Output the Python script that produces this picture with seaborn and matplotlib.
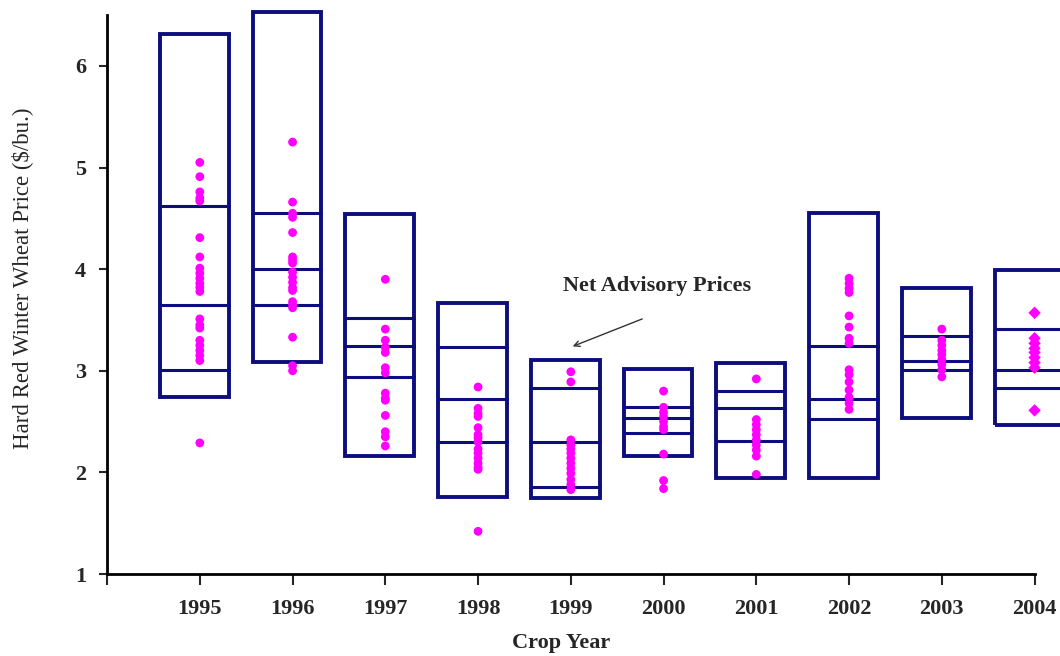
import matplotlib
matplotlib.use("Agg")
import matplotlib.pyplot as plt
from matplotlib.patches import Rectangle
import pandas as pd
import seaborn as sns

# crop years and the price ranges drawn as boxes ($/bu.)
years = [1995, 1996, 1997, 1998, 1999, 2000, 2001, 2002, 2003, 2004]
box_low = [2.74, 3.09, 2.16, 1.76, 1.75, 2.16, 1.94, 1.94, 2.54, 2.47]
box_high = [6.31, 6.53, 4.54, 3.67, 3.11, 3.02, 3.08, 4.55, 3.81, 3.99]
upper_line = [4.62, 4.55, 3.52, 3.23, 2.83, 2.64, 2.80, 3.24, 3.34, 3.41]
middle_line = [3.65, 4.00, 3.24, 2.72, 2.30, 2.54, 2.63, 2.72, 3.10, 3.01]
lower_line = [3.01, 3.65, 2.94, 2.30, 1.86, 2.39, 2.31, 2.53, 3.01, 2.83]

# net advisory prices, one list per crop year
net_prices = [
    [5.05, 4.91, 4.76, 4.70, 4.67, 4.31, 4.12, 4.01, 3.96, 3.91, 3.86, 3.82,
     3.78, 3.51, 3.45, 3.42, 3.30, 3.25, 3.20, 3.15, 3.10, 2.29],
    [5.25, 4.66, 4.55, 4.51, 4.36, 4.12, 4.09, 4.06, 3.97, 3.92, 3.87, 3.82,
     3.79, 3.68, 3.65, 3.62, 3.33, 3.05, 3.00],
    [3.90, 3.41, 3.30, 3.23, 3.18, 3.03, 2.98, 2.78, 2.73, 2.71, 2.56, 2.40,
     2.35, 2.26],
    [2.84, 2.63, 2.58, 2.55, 2.44, 2.37, 2.34, 2.30, 2.23, 2.19, 2.14, 2.09,
     2.05, 2.03, 1.42],
    [2.99, 2.89, 2.32, 2.27, 2.23, 2.19, 2.14, 2.09, 2.04, 1.99, 1.93, 1.88, 1.83],
    [2.80, 2.64, 2.59, 2.55, 2.50, 2.45, 2.42, 2.18, 1.92, 1.84],
    [2.92, 2.52, 2.47, 2.42, 2.37, 2.32, 2.27, 2.22, 2.16, 1.98],
    [3.91, 3.86, 3.81, 3.77, 3.54, 3.43, 3.32, 3.27, 3.01, 2.96, 2.89, 2.81,
     2.74, 2.68, 2.62],
    [3.41, 3.30, 3.25, 3.20, 3.16, 3.11, 3.06, 3.01, 2.94],
    [3.57, 3.32, 3.27, 3.22, 3.18, 3.13, 3.08, 3.03, 2.61],
]

rows = []
for yr, prices in zip(years, net_prices):
    for p in prices:
        rows.append({"year": yr, "price": p, "shape": "diamond" if yr == 2004 else "circle"})
df = pd.DataFrame(rows)

sns.set_style("white")
plt.rcParams["font.family"] = ["Liberation Serif", "DejaVu Serif"]

navy = "#0d0d7d"
fig, ax = plt.subplots(figsize=(10.6, 6.56), dpi=100)
fig.subplots_adjust(left=0.101, right=0.976, bottom=0.125, top=0.977)

box_w = 0.74
shift = -0.06
for i, yr in enumerate(years):
    x0 = yr + shift - box_w / 2
    ax.add_patch(Rectangle((x0, box_low[i]), box_w, box_high[i] - box_low[i],
                           fill=False, edgecolor=navy, linewidth=2.8,
                           clip_on=False, zorder=2))
    for lv in (upper_line[i], middle_line[i], lower_line[i]):
        ax.plot([x0, x0 + box_w], [lv, lv], color=navy, linewidth=2.2,
                clip_on=False, zorder=2)

sns.scatterplot(data=df, x="year", y="price", style="shape",
                markers={"circle": "o", "diamond": "D"}, color="#ff00ff",
                s=40, edgecolor="none", legend=False, ax=ax, zorder=3,
                clip_on=False)

ax.set_xlim(1994, 2004)
ax.set_ylim(1, 6.5)
ax.set_xticks(range(1994, 2005))
ax.set_xticklabels([""] + [str(y) for y in years], fontsize=16, fontweight="bold")
ax.set_yticks([1, 2, 3, 4, 5, 6])
ax.set_yticklabels(["1", "2", "3", "4", "5", "6"], fontsize=16, fontweight="bold")
ax.tick_params(axis="x", direction="out", length=8, width=1.5, pad=10, bottom=True)
ax.tick_params(axis="y", direction="out", length=6, width=1.5, pad=9, left=True)

for side in ("top", "right"):
    ax.spines[side].set_visible(False)
for side in ("left", "bottom"):
    ax.spines[side].set_color("black")
    ax.spines[side].set_linewidth(2.0)

ax.set_xlabel("Crop Year", fontsize=16, fontweight="bold")
ax.xaxis.set_label_coords(0.49, -0.105)
ax.set_ylabel("Hard Red Winter Wheat Price ($/bu.)", fontsize=16.5)
ax.yaxis.set_label_coords(-0.08, 0.53)

ax.text(1999.93, 3.83, "Net Advisory Prices", fontsize=16, fontweight="bold",
        ha="center", va="center")
ax.annotate("", xy=(1999.02, 3.24), xytext=(1999.77, 3.51),
            arrowprops=dict(arrowstyle="->", color="#333333", lw=1.0,
                            shrinkA=0, shrinkB=0))

fig.savefig("out.png", dpi=100)
